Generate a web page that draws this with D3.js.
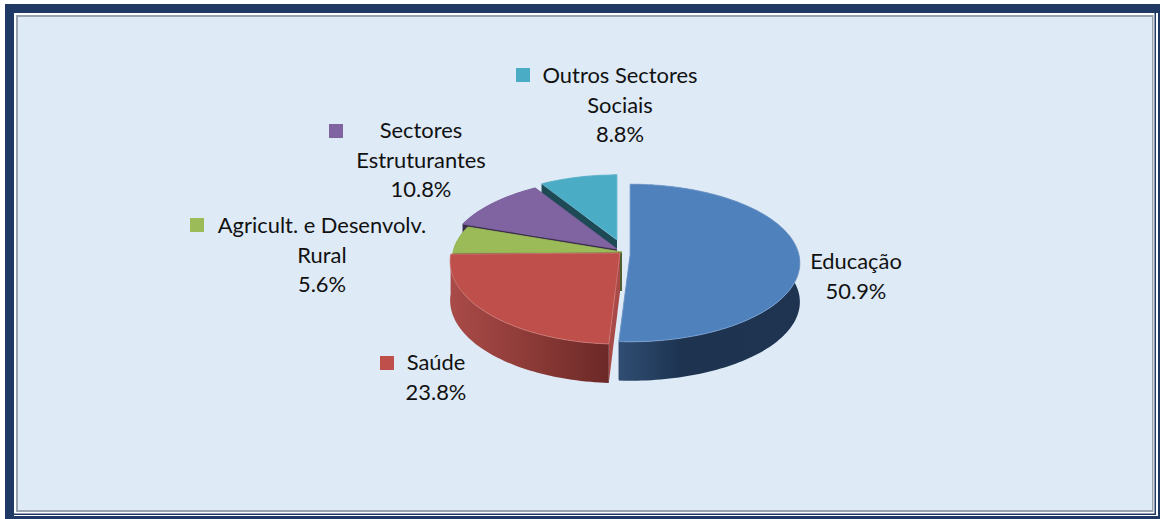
<!DOCTYPE html>
<html><head><meta charset="utf-8">
<script src="https://cdn.jsdelivr.net/npm/d3@7/dist/d3.min.js"></script>
<style>html,body{margin:0;background:#fff}svg{display:block}text{font-family:Lato,Carlito,sans-serif;font-size:21.9px;fill:#111}</style>
</head><body><div id="c"></div>
<script>
const categories=["Educação","Saúde","Agricult. e Desenvolv. Rural","Sectores Estruturantes","Outros Sectores Sociais"];
const values=[50.9,23.8,5.6,10.8,8.8];
const topColors=["#4F81BD","#BE4F4B","#9BBB59","#8064A2","#4BACC6"];
const edgeColors=["#7da3d2","#cf7a77","#9BBB59","#8064A2","#6cbdd3"];
const wallColors=["#1c314e","#a84a47","#4e5e2c","#3a2c4c","#1d4a55"];
const apexes=[[630,255],[620,253],[622,252],[617,249],[617,240]];
const radiusX=[1,1,1,1,0.92];
const radiusY=[1,1.05,1,1,0.92];
const labelLines=[["Educação","50.9%"],["Saúde","23.8%"],["Agricult. e Desenvolv.","Rural","5.6%"],["Sectores","Estruturantes","10.8%"],["Outros Sectores","Sociais","8.8%"]];
const labelAnchor=[[856,269],[436,370],[322,233],[421,138],[620,83]];
const keyAnchor=[null,[380,356],[190,218],[329,124],[516,68]];
const W=1160,H=519,Rx=169,Ry=78,persp=0.101,depth=39;
const svg=d3.select("#c").append("svg").attr("width",W).attr("height",H);
const defs=svg.append("defs");
function grad(id,stops,x1,x2){const g=defs.append("linearGradient").attr("id",id).attr("gradientUnits","userSpaceOnUse").attr("x1",x1).attr("x2",x2).attr("y1",0).attr("y2",0);
 stops.forEach(s=>g.append("stop").attr("offset",s[0]).attr("stop-color",s[1]));return `url(#${id})`;}
const wallFill=[grad("g0",[[0,"#2f4d72"],[.35,"#1d3350"],[1,"#1e3451"]],620,798),grad("g1",[[0,"#a84a47"],[.5,"#8c3a37"],[1,"#6c2927"]],455,608),"#4e5e2c","#3a2c4c","#1d4a55"];
// frame: thick outer rule on top/left, thin plus thick on bottom/right
const box=(x0,y0,x1,y1,f)=>svg.append("rect").attr("x",x0).attr("y",y0).attr("width",x1-x0).attr("height",y1-y0).attr("fill",f);
box(5,4,W,H,"#1F3864");
box(14,13,1158,516,"#fff");
box(14,13,1156,515,"#1F3864");
box(14,13,1154.5,513.5,"#fff");
box(16,15,1153.5,512,"#9aa3ad");
box(18,17,1152,510,"#DEEAF6");
const pie=d3.pie().sort(null).value(d=>d);
const arcs=pie(values);
const proj=(i,t)=>{const u=Math.sin(t),v=-Math.cos(t),w=1-persp*v;return [apexes[i][0]+radiusX[i]*Rx*u/w,apexes[i][1]+radiusY[i]*Ry*v/w];};
const line=d3.line();
const drawOrder=[4,3,2,1,0];
const g=svg.append("g");
drawOrder.forEach(i=>{
 const a=arcs[i],n=Math.max(8,Math.ceil((a.endAngle-a.startAngle)*40));
 const ang=d3.range(n+1).map(j=>a.startAngle+(a.endAngle-a.startAngle)*j/n);
 const rim=ang.map(t=>proj(i,t));
 const ap=apexes[i];
 const down=p=>[p[0],p[1]+depth];
 [rim[0],rim[n]].forEach(p=>{g.append("path").attr("d",line([ap,p,down(p),down(ap)])+"Z").attr("fill",wallColors[i]);});
 g.append("path").attr("d",line(rim.concat(rim.map(down).reverse()))+"Z").attr("fill",wallFill[i]);
 g.append("path").attr("d",line([ap].concat(rim))+"Z").attr("fill",topColors[i]).attr("stroke",edgeColors[i]).attr("stroke-width",0.8).attr("stroke-linejoin","round");
});
categories.forEach((c,i)=>{
 const [x,y]=labelAnchor[i];
 const t=svg.append("text").attr("text-anchor","middle");
 labelLines[i].forEach((l,j)=>t.append("tspan").attr("x",x).attr("y",y+j*29.5).text(l));
 if(keyAnchor[i])svg.append("rect").attr("x",keyAnchor[i][0]).attr("y",keyAnchor[i][1]).attr("width",14).attr("height",14).attr("fill",topColors[i]);
});
</script></body></html>
